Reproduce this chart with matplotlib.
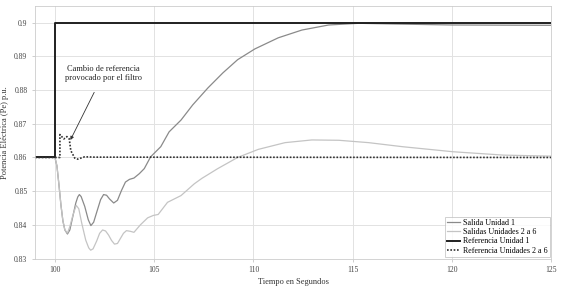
import numpy as np
import matplotlib.pyplot as plt

plt.rcParams["font.family"] = ["Liberation Serif", "DejaVu Serif"]

# Salida Unidad 1
t_u1 = [99, 100, 100.1, 100.2, 100.3, 100.4, 100.5, 100.63, 100.75, 100.9, 101.05,
        101.15, 101.23, 101.32, 101.5, 101.68, 101.81, 101.95, 102.1, 102.3, 102.45,
        102.6, 102.75, 102.96, 103.15, 103.35, 103.55, 103.75, 103.98, 104.25, 104.5,
        104.82, 105.33, 105.75, 106.35, 106.94, 107.7, 108.46, 109.2, 110.07, 111.25,
        112.44, 113.79, 115.3, 117.0, 120.0, 125.0]
v_u1 = [0.86, 0.86, 0.8575, 0.852, 0.846, 0.8412, 0.8385, 0.8373, 0.8385, 0.8425, 0.8465,
        0.8483, 0.849, 0.8484, 0.8455, 0.8415, 0.8398, 0.8408, 0.8437, 0.8475, 0.849,
        0.8488, 0.8477, 0.8465, 0.8473, 0.8502, 0.8527, 0.8535, 0.8539, 0.8552, 0.8567,
        0.8602, 0.8632, 0.8676, 0.8711, 0.8756, 0.8806, 0.8851, 0.8890, 0.8922, 0.8955,
        0.8978, 0.8993, 0.8998, 0.8996, 0.8993, 0.8992]

# Salidas Unidades 2 a 6
t_u26 = [99, 100, 100.1, 100.2, 100.3, 100.4, 100.5, 100.63, 100.75, 100.9, 101.07,
         101.2, 101.35, 101.55, 101.7, 101.8, 101.92, 102.1, 102.25, 102.4, 102.55, 102.7,
         102.85, 103.0, 103.15, 103.3, 103.45, 103.6, 103.8, 103.98, 104.3, 104.67,
         104.95, 105.2, 105.67, 106.35, 107.02, 107.4, 108.2, 109.2, 110.24, 111.59,
         112.94, 114.3, 115.8, 117.5, 120.05, 122.6, 125.0]
v_u26 = [0.86, 0.86, 0.8575, 0.852, 0.846, 0.8412, 0.8385, 0.8376, 0.8395, 0.8428, 0.8458,
         0.8448, 0.8405, 0.8355, 0.8332, 0.8325, 0.8329, 0.8352, 0.8375, 0.8385, 0.8382,
         0.837, 0.8354, 0.8343, 0.8345, 0.836, 0.8375, 0.8383, 0.8381, 0.8378, 0.840,
         0.8421, 0.8428, 0.8431, 0.8467, 0.8487, 0.8522, 0.8538, 0.8567, 0.86, 0.8624,
         0.8644, 0.8652, 0.8651, 0.8644, 0.8632, 0.8617, 0.8607, 0.8604]

# Referencia Unidad 1
t_r1 = [99, 100, 100, 125]
v_r1 = [0.86, 0.86, 0.9, 0.9]

# Referencia Unidades 2 a 6
t_r26 = [99, 100.25, 100.25, 100.45, 100.6, 100.72, 100.8, 101.0, 101.15, 101.5, 102.0, 125]
v_r26 = [0.86, 0.86, 0.8668, 0.8655, 0.8662, 0.8655, 0.862, 0.8598, 0.8595, 0.8602, 0.8601, 0.86]

fig, ax = plt.subplots(figsize=(5.66, 2.88), dpi=100)
fig.subplots_adjust(left=0.062, right=0.974, top=0.98, bottom=0.102)

ax.plot(t_u1, v_u1, color="#8a8a8a", lw=0.9, label="Salida Unidad 1")
ax.plot(t_u26, v_u26, color="#c4c4c4", lw=0.9, label="Salidas Unidades 2 a 6")
ax.plot(t_r1, v_r1, color="#202020", lw=1.4, label="Referencia Unidad 1")
ax.plot(t_r26, v_r26, color="#303030", lw=1.2, ls=(0, (1, 1)), label="Referencia Unidades 2 a 6")

ax.set_xlim(99, 125)
ax.set_ylim(0.83, 0.905)
ax.set_xticks([100, 105, 110, 115, 120, 125])
ax.set_yticks(np.arange(0.83, 0.9001, 0.01))
ax.set_yticklabels(["0.83", "0.84", "0.85", "0.86", "0.87", "0.88", "0.89", "0.9"])
ax.tick_params(labelsize=5.5, length=2, width=0.5, color="#bbbbbb", labelcolor="#444444")
ax.grid(True, color="#e2e2e2", lw=0.7)
for s in ax.spines.values():
    s.set_color("#cccccc")
    s.set_linewidth(0.6)

ax.set_xlabel("Tiempo en Segundos", fontsize=6, color="#333333", labelpad=3)
ax.set_ylabel("Potencia Eléctrica (Pe) p.u.", fontsize=6, color="#333333", labelpad=4)

ax.annotate("Cambio de referencia\nprovocado por el filtro", xy=(100.78, 0.8652),
            xytext=(102.45, 0.8849), ha="center", va="center", fontsize=6, color="#222222",
            arrowprops=dict(arrowstyle="-|>", color="#333333", lw=0.6, mutation_scale=5,
                            shrinkA=6, shrinkB=0))

leg = ax.legend(loc="lower right", fontsize=5.8, frameon=True, fancybox=False,
                handlelength=1.6, handletextpad=0.3, borderpad=0.3, labelspacing=0.15,
                borderaxespad=0.2)
leg.get_frame().set_edgecolor("#bbbbbb")
leg.get_frame().set_linewidth(0.6)

plt.savefig("out.png", dpi=100, facecolor="white")
